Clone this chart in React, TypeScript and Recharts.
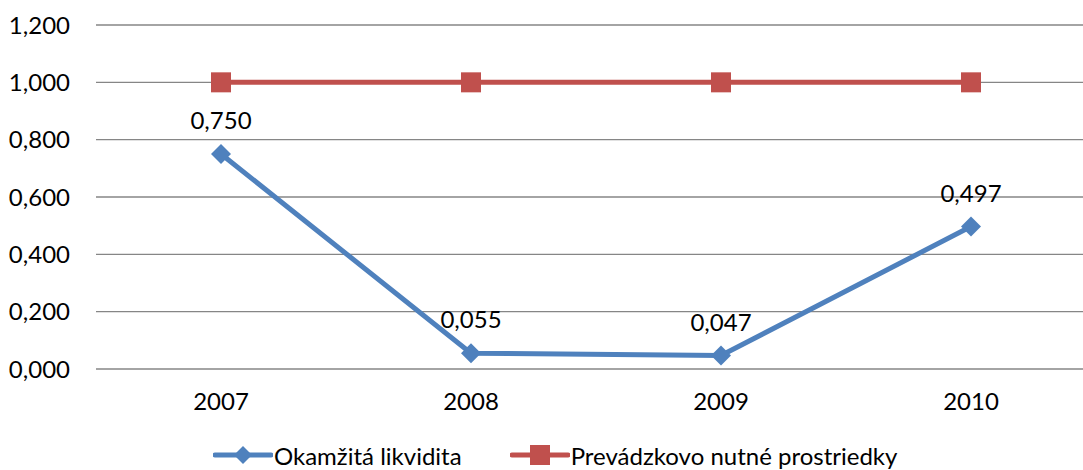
import React from 'react'
import { LineChart, Line, XAxis, YAxis, CartesianGrid, Legend, LabelList } from 'recharts'

const years = ['2007', '2008', '2009', '2010']
const okamzita = [0.75, 0.055, 0.047, 0.497]
const prevadzkovo = [1.0, 1.0, 1.0, 1.0]
const yTicks = [0, 0.2, 0.4, 0.6, 0.8, 1.0, 1.2]

const BLUE = '#4F81BD'
const RED = '#C0504D'
const FONT = 'Lato, "Noto Sans", sans-serif'
const FS = 24

const data = years.map((year, i) => ({
  year,
  okamzita: okamzita[i],
  prevadzkovo: prevadzkovo[i],
}))

const fmt = (v: number) => v.toFixed(3).replace('.', ',')

const Diamond = (props: any) => {
  const { cx, cy } = props
  if (cx == null || cy == null) return null
  const r = 10
  return <polygon points={`${cx},${cy - r} ${cx + r},${cy} ${cx},${cy + r} ${cx - r},${cy}`} fill={BLUE} />
}

const Square = (props: any) => {
  const { cx, cy } = props
  if (cx == null || cy == null) return null
  return <rect x={cx - 10} y={cy - 10} width={20} height={20} fill={RED} />
}

const LegendIcon = ({ color, shape }: { color: string; shape: 'diamond' | 'square' }) => (
  <svg width={60} height={24} style={{ verticalAlign: 'middle' }}>
    <line x1={2} y1={12} x2={58} y2={12} stroke={color} strokeWidth={5} strokeLinecap="round" />
    {shape === 'diamond' ? (
      <polygon points="30,3 39,12 30,21 21,12" fill={color} />
    ) : (
      <rect x={20} y={2} width={20} height={20} fill={color} />
    )}
  </svg>
)

const renderLegend = () => (
  <div style={{ height: 51, display: 'flex', alignItems: 'flex-end', fontFamily: FONT, fontSize: FS, color: '#000' }}>
    <div style={{ display: 'flex', alignItems: 'center', marginLeft: 213, height: 30 }}>
      <LegendIcon color={BLUE} shape="diamond" />
      <span style={{ marginLeft: 1 }}>Okamžitá likvidita</span>
    </div>
    <div style={{ display: 'flex', alignItems: 'center', marginLeft: 48, height: 30 }}>
      <LegendIcon color={RED} shape="square" />
      <span style={{ marginLeft: 1 }}>Prevádzkovo nutné prostriedky</span>
    </div>
  </div>
)

export default function App() {
  return (
    <div style={{ position: 'absolute', left: 0, top: 0, width: 1083, height: 470, overflow: 'hidden', background: '#fff' }}>
      <LineChart width={1100} height={470} data={data} margin={{ top: 25, right: 4, left: 0, bottom: 0 }}>
        <CartesianGrid vertical={false} stroke="#868686" strokeWidth={1.3} />
        <XAxis
          dataKey="year"
          axisLine={false}
          tickLine={false}
          tickSize={0}
          tickMargin={24}
          height={50}
          padding={{ left: 125, right: 125 }}
          tick={{ fill: '#000', fontSize: FS, fontFamily: FONT }}
        />
        <YAxis
          domain={[0, 1.2]}
          ticks={yTicks}
          axisLine={false}
          tickLine={false}
          tickSize={0}
          tickMargin={26}
          width={96}
          tickFormatter={fmt}
          tick={{ fill: '#000', fontSize: FS, fontFamily: FONT }}
        />
        <Legend verticalAlign="bottom" content={renderLegend} />
        <Line
          dataKey="okamzita"
          stroke={BLUE}
          strokeWidth={5}
          dot={<Diamond />}
          activeDot={false}
          isAnimationActive={false}
        >
          <LabelList
            dataKey="okamzita"
            position="top"
            offset={25}
            formatter={(v: any) => fmt(Number(v))}
            style={{ fill: '#000', fontSize: FS, fontFamily: FONT }}
          />
        </Line>
        <Line
          dataKey="prevadzkovo"
          stroke={RED}
          strokeWidth={5}
          dot={<Square />}
          activeDot={false}
          isAnimationActive={false}
        />
      </LineChart>
    </div>
  )
}
